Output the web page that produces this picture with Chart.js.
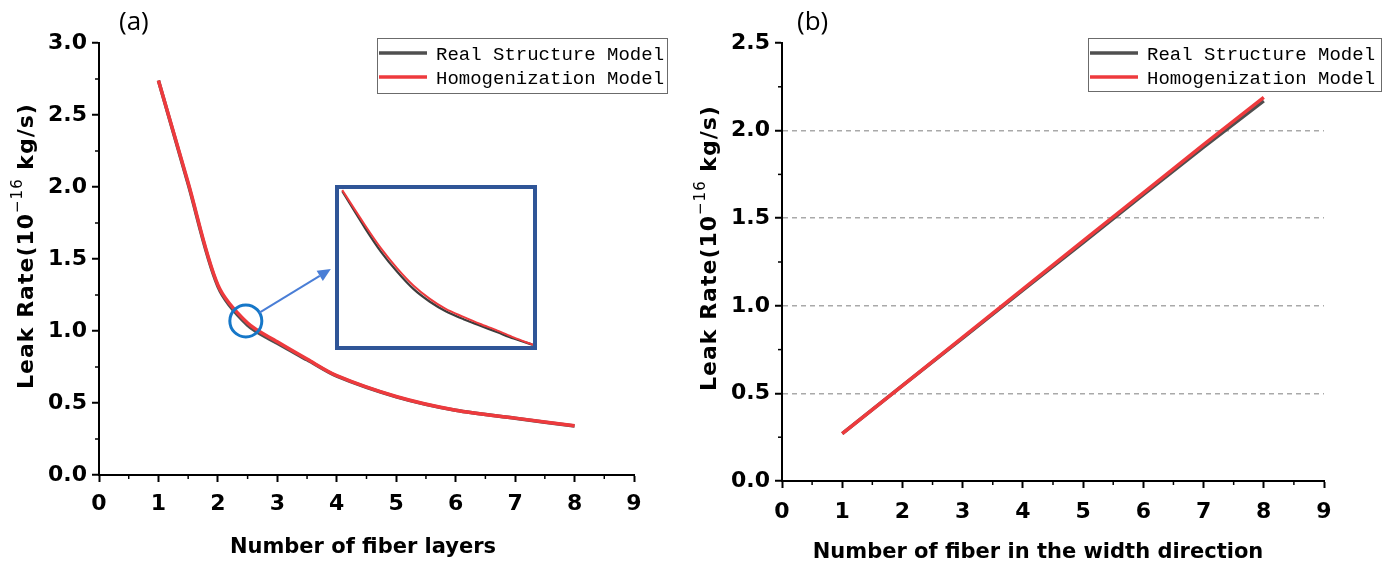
<!DOCTYPE html>
<html>
<head>
<meta charset="utf-8">
<script src="https://cdn.jsdelivr.net/npm/chart.js@4.4.1/dist/chart.umd.min.js"></script>
<style>
    html, body { margin: 0; padding: 0; background: #fff; }
    #wrap { position: relative; width: 1391px; height: 568px; overflow: hidden; }
    .box { position: absolute; }
    #boxA { left: 0; top: 0; width: 680px; height: 568px; }
    #boxB { left: 680px; top: 0; width: 711px; height: 568px; }
    #boxInset { left: 335px; top: 185px; width: 202px; height: 165px; border: 4px solid #2f5597; box-sizing: border-box; background: #fff; }
    .panel { position: absolute; top: 3px; font-family: "Open Sans", sans-serif; font-size: 26px; line-height: 34px; color: #000; }
</style>
</head>
<body>
<div id="wrap">
    <div class="box" id="boxA"><canvas id="chartA"></canvas></div>
    <div class="box" id="boxB"><canvas id="chartB"></canvas></div>
    <div class="box" id="boxInset"><canvas id="chartInset"></canvas></div>
    <div class="panel" style="left:119px;">(a)</div>
    <div class="panel" style="left:797px;">(b)</div>
</div>
<script>
// Values

// (a) leak rate vs number of fiber layers
const layersX     = [1, 1.5, 2, 2.5, 3, 3.5, 4, 5, 6, 7, 8];
const layersReal  = [2.74, 2.02, 1.31, 1.04, 0.915, 0.80, 0.686, 0.543, 0.449, 0.394, 0.34];
const layersHomog = [2.74, 2.03, 1.32, 1.055, 0.925, 0.805, 0.69, 0.545, 0.45, 0.395, 0.342];

// zoomed inset of (a)
const insetX     = [2.21, 2.28, 2.33, 2.38, 2.43, 2.48, 2.53, 2.585, 2.635, 2.69, 2.74, 2.8];
const insetReal  = [1.246, 1.182, 1.140, 1.105, 1.075, 1.053, 1.036, 1.022, 1.011, 0.999, 0.988, 0.977];
const insetHomog = [1.248, 1.187, 1.146, 1.111, 1.081, 1.058, 1.040, 1.026, 1.014, 1.002, 0.990, 0.977];

// (b) leak rate vs number of fiber in the width direction
const widthX     = [1, 2, 3, 4, 5, 6, 7, 8];
const widthReal  = [0.27, 0.545, 0.815, 1.09, 1.36, 1.635, 1.905, 2.17];
const widthHomog = [0.27, 0.545, 0.82, 1.095, 1.37, 1.645, 1.92, 2.19];

const seriesNames = ['Real Structure Model', 'Homogenization Model'];
const tickLabelsX = ['0', '1', '2', '3', '4', '5', '6', '7', '8', '9'];

const GRAY = '#4f4f4f';
const RED = '#ee3a3d';
const TICK_FONT = { family: 'DejaVu Sans', weight: 'bold', size: 22 };

function pts(xs, ys) {
    return xs.map((x, i) => ({ x: x, y: ys[i] }));
}

function lineSet(label, xs, ys, color, order, width, tension) {
    return {
        label: label,
        data: pts(xs, ys),
        borderColor: color,
        backgroundColor: color,
        borderWidth: width,
        pointRadius: 0,
        tension: tension,
        fill: false,
        order: order
    };
}

// Minor ticks, axis titles, legend box and annotations
const decoPlugin = {
    id: 'deco',
    afterDraw(chart, args, opts) {
        const ctx = chart.ctx;
        const xs = chart.scales.x, ys = chart.scales.y;
        const area = chart.chartArea;
        ctx.save();

        // minor ticks
        ctx.strokeStyle = '#000';
        ctx.lineWidth = 1.5;
        for (let v = 0.5; v < 9; v += 1) {
            const px = xs.getPixelForValue(v);
            ctx.beginPath();
            ctx.moveTo(px, area.bottom);
            ctx.lineTo(px, area.bottom + 4);
            ctx.stroke();
        }
        for (let v = 0.25; v < ys.max; v += 0.5) {
            const py = ys.getPixelForValue(v);
            ctx.beginPath();
            ctx.moveTo(area.left - 4, py);
            ctx.lineTo(area.left, py);
            ctx.stroke();
        }

        // x title
        ctx.fillStyle = '#000';
        ctx.font = 'bold 21px "DejaVu Sans"';
        ctx.textAlign = 'center';
        ctx.textBaseline = 'middle';
        ctx.fillText(opts.xTitle, opts.xTitlePos[0], opts.xTitlePos[1]);

        // y title with superscript, rotated
        ctx.save();
        ctx.translate(opts.yTitlePos[0], opts.yTitlePos[1]);
        ctx.rotate(-Math.PI / 2);
        ctx.textAlign = 'left';
        ctx.textBaseline = 'middle';
        ctx.letterSpacing = '1px';
        const mainFont = 'bold 22px "DejaVu Sans"';
        const supFont = '15px "DejaVu Sans"';
        const parts = [
            { t: 'Leak Rate(10', f: mainFont, dy: 0 },
            { t: '\u221216', f: supFont, dy: -9 },
            { t: ' kg/s)', f: mainFont, dy: 0 }
        ];
        let total = 0;
        parts.forEach(p => { ctx.font = p.f; p.w = ctx.measureText(p.t).width; total += p.w; });
        let cx = -total / 2;
        parts.forEach(p => { ctx.font = p.f; ctx.fillText(p.t, cx, p.dy); cx += p.w; });
        ctx.restore();

        // legend
        const lg = opts.legend;
        ctx.fillStyle = '#fff';
        ctx.fillRect(lg.x, lg.y, lg.w, lg.h);
        ctx.strokeStyle = '#6b6b6b';
        ctx.lineWidth = 1;
        ctx.strokeRect(lg.x + 0.5, lg.y + 0.5, lg.w, lg.h);
        ctx.font = '19px "Liberation Mono"';
        ctx.textAlign = 'left';
        ctx.textBaseline = 'alphabetic';
        chart.data.datasets.forEach((ds, i) => {
            const rowY = lg.y + 15 + i * 24;
            ctx.strokeStyle = ds.borderColor;
            ctx.lineWidth = 3.5;
            ctx.beginPath();
            ctx.moveTo(lg.x + 2, rowY);
            ctx.lineTo(lg.x + 50, rowY);
            ctx.stroke();
            ctx.fillStyle = '#000';
            ctx.fillText(ds.label, lg.x + 59, rowY + 7);
        });

        // circle marking the zoomed region and arrow to the inset
        if (opts.zoomMark) {
            const zm = opts.zoomMark;
            const ccx = xs.getPixelForValue(zm.at[0]);
            const ccy = ys.getPixelForValue(zm.at[1]);
            ctx.strokeStyle = '#1677c8';
            ctx.lineWidth = 3;
            ctx.beginPath();
            ctx.arc(ccx, ccy, zm.r, 0, Math.PI * 2);
            ctx.stroke();

            const ex = xs.getPixelForValue(zm.to[0]);
            const ey = ys.getPixelForValue(zm.to[1]);
            const ang = Math.atan2(ey - ccy, ex - ccx);
            const sx = ccx + Math.cos(ang) * zm.r;
            const sy = ccy + Math.sin(ang) * zm.r;
            const head = 13;
            const bx = ex - Math.cos(ang) * head;
            const by = ey - Math.sin(ang) * head;
            ctx.strokeStyle = '#4a7ed6';
            ctx.fillStyle = '#4a7ed6';
            ctx.lineWidth = 2;
            ctx.beginPath();
            ctx.moveTo(sx, sy);
            ctx.lineTo(bx, by);
            ctx.stroke();
            ctx.beginPath();
            ctx.moveTo(ex, ey);
            ctx.lineTo(bx + Math.sin(ang) * 6, by - Math.cos(ang) * 6);
            ctx.lineTo(bx - Math.sin(ang) * 6, by + Math.cos(ang) * 6);
            ctx.closePath();
            ctx.fill();
        }
        ctx.restore();
    }
};

function axisX(titleHeight, pad) {
    return {
        type: 'linear',
        min: 0,
        max: 9,
        afterFit: s => { s.height = titleHeight; },
        ticks: {
            stepSize: 1,
            color: '#000',
            font: TICK_FONT,
            padding: pad,
            maxRotation: 0,
            callback: (v) => tickLabelsX[v] ?? ''
        },
        grid: { drawOnChartArea: false, tickLength: 7, tickWidth: 2, tickColor: '#000' },
        border: { display: true, color: '#000', width: 2 }
    };
}

function axisY(max, width, dashed) {
    return {
        type: 'linear',
        min: 0,
        max: max,
        afterFit: s => { s.width = width; },
        ticks: {
            stepSize: 0.5,
            color: '#000',
            font: TICK_FONT,
            padding: 5,
            callback: (v) => v.toFixed(1)
        },
        grid: {
            drawOnChartArea: dashed,
            lineWidth: 1.5,
            color: (c) => (c.tick && c.tick.value > 0 && c.tick.value < max) ? '#a9a9a9' : 'rgba(0,0,0,0)',
            tickLength: 7,
            tickWidth: 2,
            tickColor: '#000'
        },
        border: { display: true, color: '#000', width: 2, dash: dashed ? [5, 4] : [] }
    };
}

const baseOpts = {
    responsive: true,
    maintainAspectRatio: false,
    animation: false,
    events: []
};

// (a)
new Chart(document.getElementById('chartA'), {
    type: 'line',
    data: {
        datasets: [
            lineSet(seriesNames[0], layersX, layersReal, GRAY, 2, 3.5, 0.3),
            lineSet(seriesNames[1], layersX, layersHomog, RED, 1, 3.5, 0.3)
        ]
    },
    options: {
        ...baseOpts,
        layout: { padding: { top: 43, right: 46, left: 0, bottom: 0 } },
        plugins: {
            legend: { display: false },
            tooltip: { enabled: false },
            deco: {
                xTitle: 'Number of fiber layers',
                xTitlePos: [363, 548],
                yTitlePos: [27, 246],
                legend: { x: 377, y: 38, w: 290, h: 55 },
                zoomMark: { at: [2.47, 1.07], r: 16, to: [3.9, 1.43] }
            }
        },
        scales: { x: axisX(93, 9), y: axisY(3, 99, false) }
    },
    plugins: [decoPlugin]
});

// (b)
new Chart(document.getElementById('chartB'), {
    type: 'line',
    data: {
        datasets: [
            lineSet(seriesNames[0], widthX, widthReal, GRAY, 2, 3.5, 0),
            lineSet(seriesNames[1], widthX, widthHomog, RED, 1, 3.5, 0)
        ]
    },
    options: {
        ...baseOpts,
        layout: { padding: { top: 43, right: 67, left: 0, bottom: 0 } },
        plugins: {
            legend: { display: false },
            tooltip: { enabled: false },
            deco: {
                xTitle: 'Number of fiber in the width direction',
                xTitlePos: [358, 553],
                yTitlePos: [30, 248],
                legend: { x: 408, y: 38, w: 293, h: 53 }
            }
        },
        scales: { x: axisX(87, 11), y: axisY(2.5, 102, true) }
    },
    plugins: [decoPlugin]
});

// inset: zoom of (a) around x = 2.5
new Chart(document.getElementById('chartInset'), {
    type: 'line',
    data: {
        datasets: [
            lineSet(seriesNames[0], insetX, insetReal, '#3d3d3d', 2, 2.2, 0.3),
            lineSet(seriesNames[1], insetX, insetHomog, RED, 1, 2, 0.3)
        ]
    },
    options: {
        ...baseOpts,
        layout: { padding: 0 },
        plugins: { legend: { display: false }, tooltip: { enabled: false } },
        scales: {
            x: { type: 'linear', display: false, min: 2.2, max: 2.8 },
            y: { type: 'linear', display: false, min: 0.975, max: 1.25 }
        }
    }
});
</script>
</body>
</html>
